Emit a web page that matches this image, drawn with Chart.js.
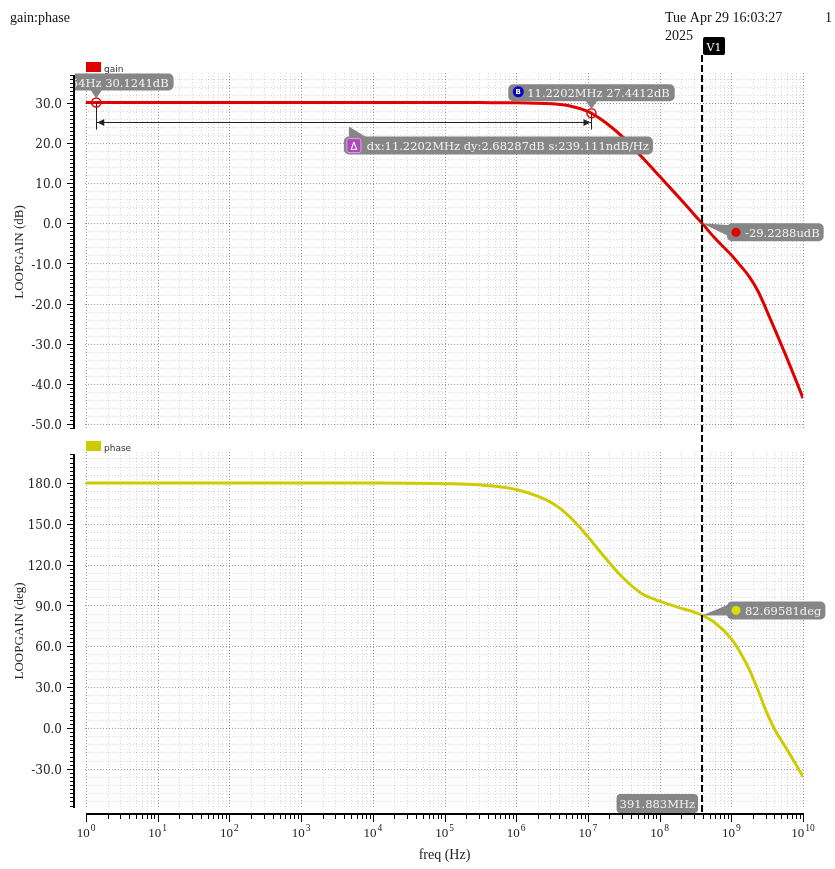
<!DOCTYPE html>
<html><head><meta charset="utf-8">
<script src="https://cdn.jsdelivr.net/npm/chart.js@4.4.0/dist/chart.umd.min.js"></script>
<style>
html,body{margin:0;padding:0;background:#fff;}
#wrap{position:relative;width:835px;height:869px;overflow:hidden;}
canvas{position:absolute;left:0;top:0;}
</style></head><body>
<div id="wrap"><canvas id="c1" width="835" height="869"></canvas><canvas id="c2" width="835" height="869"></canvas></div>
<script>
// ---- data ----
const freqHz   = [1, 10, 100, 1e3, 1e4, 1e5, 3.162e5, 1e6, 3.162e6, 5.623e6, 1e7, 1.122e7, 1.778e7, 3.162e7, 5.623e7, 1e8, 1.778e8, 3.162e8, 3.919e8, 5.623e8, 1e9, 1.334e9, 1.778e9, 2.371e9, 3.162e9, 4.217e9, 5.623e9, 7.499e9, 1e10];
const gainDb   = [30.12, 30.12, 30.12, 30.12, 30.12, 30.12, 30.11, 30.09, 29.8, 29.25, 27.9, 27.44, 25.1, 21.3, 16.6, 11.75, 6.85, 1.85, 0.0, -3.3, -7.9, -10.5, -13.3, -17.0, -22.0, -27.2, -32.5, -38.0, -43.6];
const phaseDeg = [180, 180, 180, 180, 179.95, 179.5, 178.5, 175.2, 165.3, 155.0, 140.5, 137.3, 124.5, 109.8, 98.8, 93.2, 88.8, 84.8, 82.7, 78.2, 65.5, 55.5, 43.0, 27.5, 10.5, -3.0, -13.5, -24.5, -35.8];
const gainTickValues  = [-50, -40, -30, -20, -10, 0, 10, 20, 30];
const phaseTickValues = [-30, 0, 30, 60, 90, 120, 150, 180];
const decadeExps = [0, 1, 2, 3, 4, 5, 6, 7, 8, 9, 10];
const cursorV1 = {freq: 391.883e6, gain: -29.2288e-6, phase: 82.69581, name: 'V1', freqText: '391.883MHz', gainText: '-29.2288udB', phaseText: '82.69581deg'};
const markerA = {freq: 1.38954, gain: 30.1241, text: '1.38954Hz 30.1241dB', icon: 'A'};
const markerB = {freq: 11.2202e6, gain: 27.4412, text: '11.2202MHz 27.4412dB', icon: 'B'};
const deltaText = 'dx:11.2202MHz dy:2.68287dB s:239.111ndB/Hz';
const headerTitle = 'gain:phase';
const headerDate = ['Tue Apr 29 16:03:27', '2025'];
const headerPage = '1';

// ---- styles ----
const RED = '#e00000', YEL = '#cccc00', BOXG = '#868686';
const SERIF = '"DejaVu Serif", serif', TIMES = '"Liberation Serif", "Times New Roman", serif', SANS = '"DejaVu Sans", sans-serif';

function rrect(ctx, x, y, w, h, r) {
  ctx.beginPath();
  ctx.moveTo(x + r, y);
  ctx.arcTo(x + w, y, x + w, y + h, r);
  ctx.arcTo(x + w, y + h, x, y + h, r);
  ctx.arcTo(x, y + h, x, y, r);
  ctx.arcTo(x, y, x + w, y, r);
  ctx.closePath();
}

function drawGrid(chart, minorStep, majorStep) {
  const {ctx, chartArea: a, scales: {x, y}} = chart;
  ctx.save();
  ctx.lineWidth = 1;
  ctx.setLineDash([1, 2]);
  for (let e = 0; e <= 10; e++) {
    for (let m = 1; m <= 9; m++) {
      if (e === 10 && m > 1) break;
      const px = Math.round(x.getPixelForValue(m * Math.pow(10, e))) + 0.5;
      ctx.strokeStyle = m === 1 ? 'rgba(0,0,0,0.4)' : 'rgba(0,0,0,0.15)';
      ctx.beginPath(); ctx.moveTo(px, a.top - 2); ctx.lineTo(px, a.bottom); ctx.stroke();
    }
  }
  const n0 = Math.ceil(y.min / minorStep), n1 = Math.floor(y.max / minorStep);
  for (let n = n0; n <= n1; n++) {
    const v = n * minorStep;
    const major = Math.abs(v / majorStep - Math.round(v / majorStep)) < 1e-9;
    const py = Math.round(y.getPixelForValue(v)) + 0.5;
    ctx.strokeStyle = major ? 'rgba(0,0,0,0.4)' : 'rgba(0,0,0,0.15)';
    ctx.beginPath(); ctx.moveTo(a.left - 1, py); ctx.lineTo(a.right + 2, py); ctx.stroke();
  }
  ctx.restore();
}

function drawYAxis(chart, minorStep, majorStep) {
  const {ctx, chartArea: a, scales: {y}} = chart;
  const ax = a.left - 12;
  ctx.save();
  ctx.setLineDash([]);
  ctx.strokeStyle = '#000';
  ctx.lineWidth = 2;
  ctx.beginPath(); ctx.moveTo(ax, a.top); ctx.lineTo(ax, a.bottom); ctx.stroke();
  ctx.lineWidth = 1;
  const n0 = Math.ceil(y.min / minorStep), n1 = Math.floor(y.max / minorStep);
  for (let n = n0; n <= n1; n++) {
    const v = n * minorStep;
    const major = Math.abs(v / majorStep - Math.round(v / majorStep)) < 1e-9;
    const py = Math.round(y.getPixelForValue(v)) + 0.5;
    ctx.beginPath(); ctx.moveTo(ax - 1, py); ctx.lineTo(ax - 1 - (major ? 6 : 3), py); ctx.stroke();
  }
  ctx.restore();
}

function drawLegend(chart, color, text) {
  const {ctx, chartArea: a} = chart;
  ctx.save();
  ctx.fillStyle = color;
  ctx.fillRect(a.left, a.top - 13, 15, 10);
  ctx.fillStyle = '#333';
  ctx.font = '9px ' + SANS;
  ctx.textBaseline = 'alphabetic';
  ctx.fillText(text, a.left + 18, a.top - 3);
  ctx.restore();
}

function cursorLabel(ctx, ax, ay, dy, dotColor, text) {
  ctx.save();
  ctx.font = '11.5px ' + SERIF;
  const tw = ctx.measureText(text).width;
  const bx = ax + 25, by = ay + dy, bw = 18 + tw + 4, bh = 18;
  ctx.fillStyle = BOXG;
  ctx.beginPath(); ctx.moveTo(ax, ay); ctx.lineTo(bx + 4, by + 2); ctx.lineTo(bx + 4, by + 14); ctx.closePath(); ctx.fill();
  rrect(ctx, bx, by, bw, bh, 5); ctx.fill();
  ctx.fillStyle = dotColor;
  ctx.beginPath(); ctx.arc(bx + 9, by + 9, 4.5, 0, Math.PI * 2); ctx.fill();
  ctx.fillStyle = '#f4f4f4';
  ctx.textBaseline = 'alphabetic';
  ctx.fillText(text, bx + 18, by + 13.5);
  ctx.restore();
}

function markerLabel(ctx, mx, my, m) {
  ctx.save();
  ctx.font = '11.5px ' + SERIF;
  const tw = ctx.measureText(m.text).width;
  const bw = 4 + 14 + 2 + tw + 4, bh = 17;
  const bx = mx - bw / 2, by = my - 12 - bh;
  ctx.fillStyle = BOXG;
  rrect(ctx, bx, by, bw, bh, 5); ctx.fill();
  ctx.beginPath(); ctx.moveTo(mx - 6, by + bh - 1); ctx.lineTo(mx + 6, by + bh - 1); ctx.lineTo(mx, my - 4); ctx.closePath(); ctx.fill();
  // icon
  ctx.fillStyle = '#0a0aa8';
  ctx.beginPath(); ctx.arc(bx + 10, by + 7.5, 6, 0, Math.PI * 2); ctx.fill();
  ctx.strokeStyle = '#8888dd'; ctx.lineWidth = 0.8; ctx.stroke();
  ctx.fillStyle = '#fff';
  ctx.font = 'bold 7px ' + SANS;
  ctx.textAlign = 'center';
  ctx.fillText(m.icon, bx + 10, by + 10);
  ctx.textAlign = 'left';
  ctx.font = '11.5px ' + SERIF;
  ctx.fillStyle = '#f4f4f4';
  ctx.fillText(m.text, bx + 19, by + 13);
  ctx.restore();
}

const gainPlugin = {
  id: 'gainOverlay',
  beforeDatasetsDraw(chart) { drawGrid(chart, 2, 10); },
  afterDraw(chart) {
    const {ctx, chartArea: a, scales: {x, y}} = chart;
    drawYAxis(chart, 1, 10);
    drawLegend(chart, RED, 'gain');
    // header
    ctx.save();
    ctx.fillStyle = '#111';
    ctx.font = '14px ' + TIMES;
    ctx.textBaseline = 'alphabetic';
    ctx.fillText(headerTitle, 10, 22);
    ctx.fillText(headerDate[0], 665, 22);
    ctx.fillText(headerDate[1], 665, 40);
    ctx.fillText(headerPage, 825, 22);
    ctx.restore();

    ctx.save();
    ctx.beginPath(); ctx.rect(a.left - 11, 0, 900, 900); ctx.clip();
    const Ax = x.getPixelForValue(markerA.freq), Ay = y.getPixelForValue(markerA.gain);
    const Bx = x.getPixelForValue(markerB.freq), By = y.getPixelForValue(markerB.gain);
    const lineY = Ay + 19;
    // delta measurement
    ctx.strokeStyle = '#222'; ctx.fillStyle = '#222'; ctx.lineWidth = 1;
    ctx.beginPath();
    ctx.moveTo(Math.round(Ax) + 0.5, Ay); ctx.lineTo(Math.round(Ax) + 0.5, lineY + 8);
    ctx.moveTo(Math.round(Bx) + 0.5, By); ctx.lineTo(Math.round(Bx) + 0.5, lineY + 8);
    ctx.moveTo(Ax, Math.round(lineY) + 0.5); ctx.lineTo(Bx, Math.round(lineY) + 0.5);
    ctx.stroke();
    const ly = Math.round(lineY) + 0.5;
    ctx.beginPath(); ctx.moveTo(Ax + 1, ly); ctx.lineTo(Ax + 8, ly - 3.5); ctx.lineTo(Ax + 8, ly + 3.5); ctx.closePath(); ctx.fill();
    ctx.beginPath(); ctx.moveTo(Bx - 1, ly); ctx.lineTo(Bx - 8, ly - 3.5); ctx.lineTo(Bx - 8, ly + 3.5); ctx.closePath(); ctx.fill();
    // markers
    for (const [mx, my] of [[Ax, Ay], [Bx, By]]) {
      ctx.strokeStyle = RED; ctx.lineWidth = 1.5;
      ctx.beginPath(); ctx.arc(mx, my, 4.5, 0, Math.PI * 2); ctx.stroke();
    }
    markerLabel(ctx, Ax, Ay, markerA);
    markerLabel(ctx, Bx, By, markerB);
    // delta label
    ctx.font = '11.5px ' + SERIF;
    const tw = ctx.measureText(deltaText).width;
    const dx0 = (Ax + Bx) / 2, dy0 = lineY + 15;
    const dw = 4 + 14 + 5 + tw + 4, dh = 18;
    ctx.fillStyle = BOXG;
    ctx.beginPath(); ctx.moveTo(dx0 + 5, lineY + 5); ctx.lineTo(dx0 + 5, dy0 + 1); ctx.lineTo(dx0 + 23, dy0 + 1); ctx.closePath(); ctx.fill();
    rrect(ctx, dx0, dy0, dw, dh, 5); ctx.fill();
    ctx.fillStyle = '#b04ab8';
    rrect(ctx, dx0 + 3, dy0 + 2, 14, 14, 2); ctx.fill();
    ctx.strokeStyle = '#e0a0e8'; ctx.lineWidth = 1; ctx.stroke();
    ctx.fillStyle = '#fff'; ctx.font = '10px ' + SANS; ctx.textAlign = 'center';
    ctx.fillText('\u0394', dx0 + 10, dy0 + 13);
    ctx.textAlign = 'left'; ctx.font = '11.5px ' + SERIF; ctx.fillStyle = '#f4f4f4';
    ctx.fillText(deltaText, dx0 + 23, dy0 + 13.5);
    ctx.restore();

    // cursor label on gain
    const cx = Math.round(x.getPixelForValue(cursorV1.freq));
    cursorLabel(ctx, cx, y.getPixelForValue(cursorV1.gain), 0, RED, cursorV1.gainText);
    // V1 tag
    ctx.save();
    ctx.fillStyle = '#000';
    rrect(ctx, cx + 1, 37, 22, 18, 2); ctx.fill();
    ctx.fillStyle = '#fff'; ctx.font = '11px ' + SERIF; ctx.textAlign = 'center';
    ctx.fillText(cursorV1.name, cx + 12, 51);
    ctx.restore();
  }
};

const phasePlugin = {
  id: 'phaseOverlay',
  beforeDatasetsDraw(chart) { drawGrid(chart, 6, 30); },
  afterDraw(chart) {
    const {ctx, chartArea: a, scales: {x, y}} = chart;
    drawYAxis(chart, 3, 30);
    drawLegend(chart, YEL, 'phase');
    // x axis
    const ay = a.bottom + 6;
    ctx.save();
    ctx.strokeStyle = '#000'; ctx.lineWidth = 2;
    ctx.beginPath(); ctx.moveTo(a.left, ay); ctx.lineTo(a.right + 1, ay); ctx.stroke();
    ctx.lineWidth = 1;
    for (let e = 0; e <= 10; e++) {
      for (let m = 1; m <= 9; m++) {
        if (e === 10 && m > 1) break;
        const px = Math.round(x.getPixelForValue(m * Math.pow(10, e))) + 0.5;
        ctx.beginPath(); ctx.moveTo(px, ay + 1); ctx.lineTo(px, ay + (m === 1 ? 8 : 5)); ctx.stroke();
      }
    }
    ctx.fillStyle = '#222';
    for (const e of decadeExps) {
      const px = x.getPixelForValue(Math.pow(10, e));
      ctx.font = '13px ' + TIMES;
      const wb = ctx.measureText('10').width;
      ctx.font = '9.5px ' + TIMES;
      const ws = ctx.measureText(String(e)).width;
      const x0 = px - (wb + ws + 1) / 2;
      ctx.font = '13px ' + TIMES;
      ctx.fillText('10', x0, ay + 23);
      ctx.font = '9.5px ' + TIMES;
      ctx.fillText(String(e), x0 + wb + 1, ay + 17);
    }
    ctx.restore();

    // cursor line
    const cx = Math.round(x.getPixelForValue(cursorV1.freq));
    ctx.save();
    ctx.strokeStyle = '#000'; ctx.lineWidth = 2; ctx.setLineDash([7, 3]);
    ctx.beginPath(); ctx.moveTo(cx, 55); ctx.lineTo(cx, ay); ctx.stroke();
    ctx.restore();
    cursorLabel(ctx, cx, y.getPixelForValue(cursorV1.phase), -14, '#dddd00', cursorV1.phaseText);
    // freq label
    ctx.save();
    ctx.font = '11.5px ' + SERIF;
    const tw = ctx.measureText(cursorV1.freqText).width;
    const bw = tw + 6, bx = cx - 4 - bw, by = a.bottom - 14;
    ctx.fillStyle = BOXG;
    rrect(ctx, bx, by, bw, 19, 4); ctx.fill();
    ctx.fillStyle = '#f4f4f4'; ctx.textAlign = 'center';
    ctx.fillText(cursorV1.freqText, bx + bw / 2, by + 14);
    ctx.restore();
  }
};

function yScale(min, max, ticks, title) {
  return {
    position: 'left', min: min, max: max,
    afterBuildTicks: s => { s.ticks = ticks.map(v => ({value: v})); },
    afterFit: s => { s.width = 86; },
    grid: {display: false, drawTicks: false},
    border: {display: false},
    ticks: {padding: 24, labelOffset: 2, color: '#222', font: {family: SERIF, size: 12}, callback: v => Number(v).toFixed(1), autoSkip: false},
    title: {display: true, text: title, color: '#222', font: {family: TIMES, size: 13}, padding: {top: 12, bottom: 0}}
  };
}

new Chart(document.getElementById('c1'), {
  type: 'line',
  data: {datasets: [{data: freqHz.map((f, i) => ({x: f, y: gainDb[i]})), borderColor: RED, borderWidth: 3, pointRadius: 0, cubicInterpolationMode: 'monotone', fill: false}]},
  options: {
    responsive: false, animation: false, events: [],
    layout: {padding: {top: 75, bottom: 440, left: 0, right: 32}},
    plugins: {legend: {display: false}, tooltip: {enabled: false}},
    scales: {
      x: {type: 'logarithmic', min: 1, max: 1e10, display: false},
      y: yScale(-51.3, 37, gainTickValues, 'LOOPGAIN (dB)')
    }
  },
  plugins: [gainPlugin]
});

new Chart(document.getElementById('c2'), {
  type: 'line',
  data: {datasets: [{data: freqHz.map((f, i) => ({x: f, y: phaseDeg[i]})), borderColor: YEL, borderWidth: 3, pointRadius: 0, cubicInterpolationMode: 'monotone', fill: false}]},
  options: {
    responsive: false, animation: false, events: [],
    layout: {padding: {top: 454, bottom: 0, left: 0, right: 32}},
    plugins: {legend: {display: false}, tooltip: {enabled: false}},
    scales: {
      x: {type: 'logarithmic', min: 1, max: 1e10, display: true,
          afterFit: s => { s.height = 61; },
          ticks: {display: false}, grid: {display: false, drawTicks: false}, border: {display: false},
          title: {display: true, text: 'freq (Hz)', color: '#222', font: {family: TIMES, size: 14}, padding: {top: 0, bottom: 5}}},
      y: yScale(-58.8, 201.3, phaseTickValues, 'LOOPGAIN (deg)')
    }
  },
  plugins: [phasePlugin]
});
</script>
</body></html>
